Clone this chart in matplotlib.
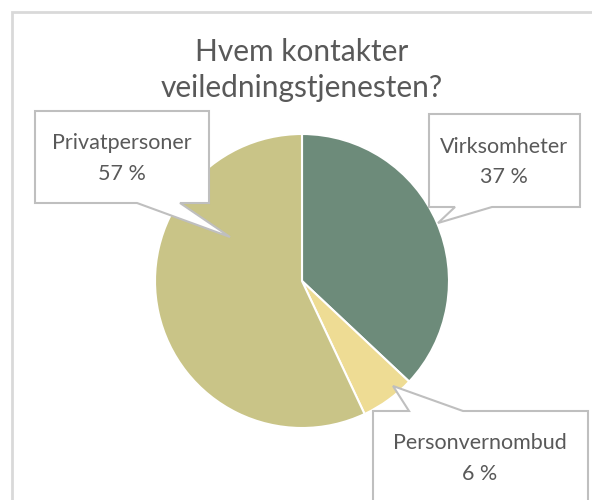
import matplotlib
matplotlib.use('Agg')
import matplotlib.pyplot as plt
from matplotlib.patches import Polygon, Rectangle

W, H = 592, 500

categories = ['Virksomheter', 'Personvernombud', 'Privatpersoner']
shares = [37, 6, 57]
slice_colors = ['#6d8b7a', '#eedc94', '#c9c487']
title_lines = ['Hvem kontakter', 'veiledningstjenesten?']

TEXT_COLOR = '#595959'
BOX_EDGE = '#bfbfbf'
FONT = ['Lato', 'DejaVu Sans']


def py(y):
    # pixel row (from top) to data y (from bottom)
    return H - y


def callout(ax, box, base, tip, edge):
    # box = (x0, y0, x1, y1) in pixels, base = two x points on the pointer edge
    x0, y0, x1, y1 = box
    if edge == 'bottom':
        pts = [(x0, y0), (x1, y0), (x1, y1), (max(base), y1), tip, (min(base), y1), (x0, y1)]
    else:
        pts = [(x0, y0), (min(base), y0), tip, (max(base), y0), (x1, y0), (x1, y1), (x0, y1)]
    pts = [(x, py(y)) for x, y in pts]
    ax.add_patch(Polygon(pts, closed=True, facecolor='white', edgecolor=BOX_EDGE,
                         linewidth=1.5, joinstyle='miter', zorder=5))


fig = plt.figure(figsize=(W / 100, H / 100), dpi=100)
ax = fig.add_axes([0, 0, 1, 1])

# chart area border
ax.add_patch(Rectangle((11.5, py(620)), 700, 608.5, facecolor='none',
                       edgecolor='#d9d9d9', linewidth=2, zorder=1))

ax.pie(shares, colors=slice_colors, startangle=90, counterclock=False,
       center=(302, py(281)), radius=147, frame=True,
       wedgeprops=dict(edgecolor='white', linewidth=1.5, zorder=2))
ax.set_xlim(0, W)
ax.set_ylim(0, H)
ax.set_aspect('equal')
ax.axis('off')

ax.text(302, py(52), title_lines[0], ha='center', va='center', fontsize=21.5,
        color=TEXT_COLOR, family=FONT)
ax.text(302, py(88), title_lines[1], ha='center', va='center', fontsize=21.5,
        color=TEXT_COLOR, family=FONT)

callout(ax, (35, 111, 209, 203), (137, 180), (230, 237), 'bottom')
callout(ax, (429, 114, 580, 207), (455, 492), (438, 223), 'bottom')
callout(ax, (373, 411, 588, 530), (409, 463), (393, 386), 'top')

label_pos = {
    'Privatpersoner': (122, 143, 174),
    'Virksomheter': (504, 147, 177),
    'Personvernombud': (480, 443, 474),
}
for name, share in zip(categories, shares):
    x, y1, y2 = label_pos[name]
    ax.text(x, py(y1), name, ha='center', va='center', fontsize=15.5,
            color=TEXT_COLOR, family=FONT, zorder=6)
    ax.text(x, py(y2), f'{share} %', ha='center', va='center', fontsize=15.5,
            color=TEXT_COLOR, family=FONT, zorder=6)

fig.savefig('out.png', dpi=100)
